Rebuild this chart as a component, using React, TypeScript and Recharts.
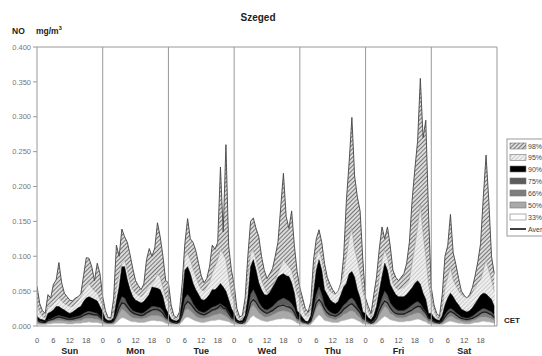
import React from "react";
import { ComposedChart, Area, Line, XAxis, YAxis, ReferenceLine } from "recharts";

// Values in units of 0.001 mg/m3, one row of 24 hourly values per day
const days = ["Sun", "Mon", "Tue", "Wed", "Thu", "Fri", "Sat"];
const hourTicks = [0, 6, 12, 18];
const yTicks = [0, 50, 100, 150, 200, 250, 300, 350, 400];
const dayBounds = [24, 48, 72, 96, 120, 144, 168];

const p98 = [
  [57, 32, 22, 18, 45, 40, 60, 66, 91, 62, 47, 42, 37, 36, 40, 42, 46, 72, 98, 97, 85, 65, 90, 75],
  [42, 22, 12, 12, 40, 116, 100, 139, 128, 120, 102, 82, 65, 58, 52, 60, 95, 111, 100, 112, 148, 128, 100, 65],
  [62, 30, 15, 12, 20, 60, 118, 154, 125, 120, 108, 90, 72, 62, 68, 85, 116, 110, 120, 228, 135, 260, 115, 80],
  [60, 25, 13, 15, 40, 100, 150, 155, 140, 128, 100, 80, 68, 75, 82, 100, 120, 170, 219, 157, 140, 165, 115, 78],
  [55, 40, 25, 20, 35, 95, 125, 138, 120, 90, 70, 60, 52, 46, 50, 62, 100, 180, 235, 299, 215, 185, 165, 95],
  [40, 28, 18, 45, 70, 110, 142, 125, 142, 115, 80, 70, 65, 70, 75, 90, 120, 180, 225, 265, 355, 270, 295, 160],
  [55, 30, 18, 14, 45, 100, 115, 160, 105, 88, 68, 50, 44, 40, 45, 55, 72, 92, 118, 185, 245, 180, 100, 75],
];
const p95 = [
  [30, 20, 14, 12, 28, 28, 32, 36, 40, 36, 32, 30, 28, 28, 32, 36, 42, 50, 56, 61, 55, 50, 48, 38],
  [30, 16, 10, 10, 20, 55, 75, 90, 95, 80, 62, 52, 47, 44, 42, 46, 52, 58, 61, 66, 75, 70, 55, 40],
  [35, 18, 10, 9, 15, 45, 99, 104, 95, 82, 71, 60, 52, 50, 56, 62, 75, 85, 95, 109, 104, 95, 70, 45],
  [35, 16, 9, 10, 25, 70, 104, 109, 95, 80, 66, 56, 47, 50, 56, 65, 76, 85, 95, 90, 85, 80, 65, 45],
  [38, 25, 15, 14, 25, 70, 100, 109, 95, 75, 56, 50, 47, 45, 50, 60, 76, 100, 125, 140, 110, 95, 76, 50],
  [35, 20, 12, 25, 40, 70, 95, 109, 98, 80, 61, 55, 52, 54, 56, 60, 66, 90, 114, 142, 175, 133, 100, 60],
  [40, 22, 12, 10, 25, 55, 70, 85, 66, 58, 50, 45, 42, 40, 42, 48, 55, 62, 66, 80, 95, 80, 66, 50],
];
const p90 = [
  [14, 10, 9, 8, 18, 20, 23, 28, 28, 25, 23, 20, 18, 20, 23, 26, 28, 35, 40, 42, 40, 38, 36, 28],
  [20, 10, 8, 8, 12, 35, 56, 85, 85, 66, 52, 42, 37, 35, 33, 35, 40, 45, 56, 55, 54, 52, 42, 25],
  [18, 10, 8, 7, 10, 37, 80, 85, 75, 61, 52, 45, 38, 37, 40, 45, 52, 52, 56, 61, 56, 50, 38, 25],
  [18, 9, 7, 8, 15, 40, 85, 95, 80, 62, 52, 45, 44, 48, 55, 62, 70, 73, 75, 72, 71, 62, 47, 22],
  [18, 12, 7, 6, 15, 47, 80, 95, 80, 52, 45, 38, 34, 32, 35, 45, 56, 61, 75, 78, 70, 52, 40, 20],
  [18, 12, 9, 15, 28, 50, 71, 90, 80, 60, 52, 45, 42, 42, 42, 45, 50, 55, 61, 65, 60, 47, 38, 18],
  [18, 12, 9, 8, 15, 30, 40, 47, 42, 35, 30, 24, 22, 20, 22, 26, 32, 38, 44, 47, 46, 42, 38, 28],
];
const p75 = [
  [9, 7, 6, 5, 9, 10, 12, 14, 15, 14, 13, 12, 11, 12, 13, 14, 15, 18, 20, 21, 20, 19, 18, 14],
  [10, 6, 5, 5, 7, 18, 32, 42, 40, 32, 26, 22, 20, 19, 18, 19, 22, 25, 28, 28, 27, 26, 22, 14],
  [10, 6, 5, 5, 6, 20, 40, 45, 40, 32, 26, 22, 20, 19, 21, 24, 27, 28, 30, 32, 29, 26, 20, 13],
  [10, 6, 5, 5, 8, 22, 45, 52, 44, 34, 28, 24, 23, 25, 28, 32, 36, 38, 40, 38, 36, 32, 25, 13],
  [10, 7, 5, 4, 8, 25, 45, 56, 45, 30, 24, 20, 18, 17, 19, 24, 30, 33, 38, 40, 36, 28, 22, 12],
  [10, 7, 5, 8, 14, 28, 40, 50, 44, 33, 28, 24, 22, 22, 22, 24, 27, 30, 33, 35, 32, 25, 20, 11],
  [11, 7, 5, 5, 8, 16, 22, 25, 23, 19, 16, 13, 12, 11, 12, 14, 17, 20, 23, 25, 24, 22, 20, 15],
];
const p66 = [
  [7, 5, 5, 4, 7, 8, 9, 11, 12, 11, 10, 9, 9, 9, 10, 11, 12, 14, 15, 16, 15, 15, 14, 11],
  [8, 5, 4, 4, 5, 14, 25, 33, 31, 25, 20, 17, 16, 15, 14, 15, 17, 19, 22, 22, 21, 20, 17, 11],
  [8, 5, 4, 4, 5, 15, 31, 35, 31, 25, 20, 17, 16, 15, 16, 19, 21, 22, 24, 25, 23, 20, 16, 10],
  [8, 5, 4, 4, 6, 17, 35, 42, 35, 27, 22, 19, 18, 20, 22, 25, 28, 30, 31, 30, 28, 25, 19, 10],
  [8, 5, 4, 3, 6, 19, 35, 45, 36, 24, 19, 16, 14, 13, 15, 19, 24, 26, 30, 31, 28, 22, 17, 9],
  [8, 5, 4, 6, 11, 22, 31, 40, 35, 26, 22, 19, 17, 17, 17, 19, 21, 23, 26, 27, 25, 20, 16, 9],
  [8, 5, 4, 4, 6, 12, 17, 20, 18, 15, 12, 10, 9, 9, 9, 11, 13, 15, 18, 19, 19, 17, 15, 11],
];
const p50 = [
  [5, 4, 3, 3, 5, 6, 7, 8, 8, 8, 7, 7, 6, 7, 7, 8, 8, 10, 11, 11, 11, 10, 10, 8],
  [6, 4, 3, 3, 4, 10, 18, 24, 22, 18, 14, 12, 11, 11, 10, 11, 12, 14, 15, 15, 15, 14, 12, 8],
  [6, 4, 3, 3, 4, 11, 22, 25, 22, 18, 14, 12, 11, 11, 12, 13, 15, 16, 17, 18, 16, 14, 11, 7],
  [6, 4, 3, 3, 4, 12, 25, 30, 25, 19, 16, 13, 13, 14, 16, 18, 20, 21, 22, 21, 20, 18, 13, 7],
  [6, 4, 3, 2, 4, 13, 25, 32, 26, 17, 13, 11, 10, 9, 11, 13, 17, 18, 21, 22, 20, 15, 12, 6],
  [6, 4, 3, 4, 8, 15, 22, 28, 25, 18, 16, 13, 12, 12, 12, 13, 15, 16, 18, 19, 18, 14, 11, 6],
  [6, 4, 3, 3, 4, 8, 12, 14, 13, 10, 9, 7, 6, 6, 6, 8, 9, 11, 13, 13, 13, 12, 10, 8],
];
const p33 = [
  [3, 2, 2, 2, 3, 3, 4, 4, 4, 4, 4, 3, 3, 3, 4, 4, 4, 5, 5, 6, 5, 5, 5, 4],
  [3, 2, 2, 2, 2, 5, 9, 12, 11, 9, 7, 6, 6, 5, 5, 5, 6, 7, 8, 8, 7, 7, 6, 4],
  [3, 2, 2, 2, 2, 6, 11, 13, 11, 9, 7, 6, 5, 5, 6, 7, 8, 8, 9, 9, 8, 7, 6, 4],
  [3, 2, 2, 2, 2, 6, 12, 15, 12, 10, 8, 7, 6, 7, 8, 9, 10, 10, 11, 10, 10, 9, 7, 4],
  [3, 2, 2, 1, 2, 7, 12, 16, 13, 8, 7, 6, 5, 5, 5, 7, 8, 9, 10, 11, 10, 8, 6, 3],
  [3, 2, 2, 2, 4, 7, 11, 14, 12, 9, 8, 7, 6, 6, 6, 7, 7, 8, 9, 10, 9, 7, 6, 3],
  [3, 2, 2, 2, 2, 4, 6, 7, 6, 5, 4, 4, 3, 3, 3, 4, 5, 5, 6, 7, 6, 6, 5, 4],
];
const avg = [
  [9, 6, 5, 5, 8, 9, 10, 12, 13, 12, 11, 10, 10, 10, 11, 12, 13, 15, 17, 18, 17, 16, 16, 13],
  [9, 6, 5, 5, 7, 15, 26, 33, 32, 27, 22, 19, 17, 16, 15, 16, 19, 21, 23, 24, 24, 22, 18, 12],
  [10, 6, 5, 4, 6, 16, 30, 35, 32, 27, 22, 19, 17, 16, 18, 20, 23, 24, 26, 30, 26, 25, 18, 12],
  [10, 6, 4, 4, 7, 18, 33, 38, 34, 27, 23, 20, 18, 20, 22, 25, 28, 29, 30, 28, 27, 25, 19, 11],
  [10, 6, 5, 4, 7, 20, 33, 38, 33, 24, 19, 16, 15, 14, 16, 19, 24, 27, 30, 32, 28, 24, 19, 11],
  [9, 6, 4, 6, 11, 22, 30, 36, 33, 26, 21, 18, 17, 17, 17, 19, 21, 23, 26, 28, 28, 23, 19, 11],
  [10, 6, 5, 4, 7, 13, 18, 21, 19, 16, 13, 11, 10, 9, 10, 11, 13, 15, 18, 20, 20, 18, 16, 12],
];

const legendItems = ["98%", "95%", "90%", "75%", "66%", "50%", "33%", "Average"];

const data = days.flatMap((_, d) =>
  p98[d].map((_, h) => ({
    i: d * 24 + h,
    p98: p98[d][h],
    p95: p95[d][h],
    p90: p90[d][h],
    p75: p75[d][h],
    p66: p66[d][h],
    p50: p50[d][h],
    p33: p33[d][h],
    avg: avg[d][h],
  }))
);

const xTicks = days.flatMap((_, d) => hourTicks.map((h) => d * 24 + h));

const FONT = "Arial, 'Liberation Sans', sans-serif";

const fills: Record<string, string> = {
  "98%": "url(#h98)",
  "95%": "url(#h95)",
  "90%": "#000000",
  "75%": "#5c5c5c",
  "66%": "#7e7e7e",
  "50%": "#a9a9a9",
  "33%": "#ffffff",
};
const legendFills: Record<string, string> = {
  "98%": "url(#lh98)",
  "95%": "url(#lh95)",
  "90%": "#000000",
  "75%": "#5c5c5c",
  "66%": "#7e7e7e",
  "50%": "#a9a9a9",
  "33%": "#ffffff",
};

const HourTick = (props: any) => {
  const { x, y, payload } = props;
  const v = payload.value as number;
  const h = v % 24;
  const d = Math.floor(v / 24);
  return (
    <g>
      <text x={x} y={y + 14.5} textAnchor="middle" fontSize={7.5} fill="#555" fontFamily={FONT}>
        {h}
      </text>
      {h === 12 ? (
        <text x={x} y={y + 26} textAnchor="middle" fontSize={9} fontWeight="bold" fill="#222" fontFamily={FONT}>
          {days[d]}
        </text>
      ) : null}
    </g>
  );
};

const Hatch = ({ id, bg, fg, w }: { id: string; bg: string; fg: string; w: number }) => (
  <pattern id={id} width="3" height="3" patternUnits="userSpaceOnUse" patternTransform="rotate(45)">
    <rect width="3" height="3" fill={bg} />
    <line x1="0" y1="0" x2="0" y2="3" stroke={fg} strokeWidth={w} />
  </pattern>
);

export default function App() {
  const rowY = [146, 157.5, 169, 181, 193, 205, 217, 229];
  return (
    <div style={{ position: "absolute", left: 0, top: 0, width: 542, height: 356, background: "#fff" }}>
      <ComposedChart
        width={542}
        height={356}
        data={data}
        margin={{ top: 47, right: 45, bottom: 0, left: 0 }}
      >
        <defs>
          <Hatch id="h98" bg="#dcdcdc" fg="#484848" w={1.4} />
          <Hatch id="h95" bg="#efefef" fg="#b4b4b4" w={1.2} />
        </defs>
        <XAxis
          type="number"
          dataKey="i"
          domain={[0, 168]}
          ticks={xTicks}
          interval={0}
          tick={<HourTick />}
          tickLine={false}
          tickSize={0}
          height={30}
          axisLine={{ stroke: "#999" }}
          allowDataOverflow
        />
        <YAxis
          type="number"
          domain={[0, 400]}
          ticks={yTicks}
          interval={0}
          width={37}
          tickSize={4}
          tickMargin={2}
          tickLine={{ stroke: "#999" }}
          axisLine={{ stroke: "#999" }}
          tick={{ fontSize: 7.5, fill: "#777", fontFamily: FONT }}
          tickFormatter={(v: number) => (v / 1000).toFixed(3)}
          allowDataOverflow
        />
        <Area type="linear" dataKey="p98" fill="url(#h98)" fillOpacity={1} stroke="#444" strokeWidth={0.9} isAnimationActive={false} />
        <Area type="linear" dataKey="p95" fill="url(#h95)" fillOpacity={1} stroke="#999" strokeWidth={0.5} isAnimationActive={false} />
        <Area type="linear" dataKey="p90" fill={fills["90%"]} fillOpacity={1} stroke="#000" strokeWidth={0.5} isAnimationActive={false} />
        <Area type="linear" dataKey="p75" fill={fills["75%"]} fillOpacity={1} stroke="#4a4a4a" strokeWidth={0.5} isAnimationActive={false} />
        <Area type="linear" dataKey="p66" fill={fills["66%"]} fillOpacity={1} stroke="#6a6a6a" strokeWidth={0.5} isAnimationActive={false} />
        <Area type="linear" dataKey="p50" fill={fills["50%"]} fillOpacity={1} stroke="#999" strokeWidth={0.5} isAnimationActive={false} />
        <Area type="linear" dataKey="p33" fill={fills["33%"]} fillOpacity={1} stroke="#bbb" strokeWidth={0.5} isAnimationActive={false} />
        <Line type="linear" dataKey="avg" stroke="#1a1a1a" strokeWidth={1.2} dot={false} isAnimationActive={false} />
        {dayBounds.map((b) => (
          <ReferenceLine key={b} x={b} stroke="#999" strokeWidth={1} />
        ))}
        <ReferenceLine y={400} stroke="#999" strokeWidth={1} />
      </ComposedChart>
      <svg
        width={542}
        height={356}
        style={{ position: "absolute", left: 0, top: 0, pointerEvents: "none" }}
      >
        <defs>
          <Hatch id="lh98" bg="#dcdcdc" fg="#484848" w={1.4} />
          <Hatch id="lh95" bg="#efefef" fg="#b4b4b4" w={1.2} />
        </defs>
        <text x={258} y={21} textAnchor="middle" fontSize={10} fontWeight="bold" fill="#222" fontFamily={FONT}>
          Szeged
        </text>
        <text x={12} y={34} fontSize={8.5} fontWeight="bold" fill="#222" fontFamily={FONT}>
          NO
        </text>
        <text x={36} y={34} fontSize={8.5} fontWeight="bold" fill="#222" fontFamily={FONT}>
          mg/m
          <tspan fontSize={5.5} dy={-4}>3</tspan>
        </text>
        <text x={504} y={323} fontSize={8} fontWeight="bold" fill="#222" fontFamily={FONT}>
          CET
        </text>
        <rect x={507} y={139} width={60} height={97} fill="#fff" stroke="#999" strokeWidth={1} />
        {legendItems.map((name, k) =>
          name === "Average" ? (
            <g key={name}>
              <line x1={510} x2={526} y1={rowY[k]} y2={rowY[k]} stroke="#111" strokeWidth={1.6} />
              <text x={528} y={rowY[k] + 2.5} fontSize={7} fill="#444" fontFamily={FONT}>
                {name}
              </text>
            </g>
          ) : (
            <g key={name}>
              <rect x={510} y={rowY[k] - 3} width={16} height={6} fill={legendFills[name]} stroke="#777" strokeWidth={0.6} />
              <text x={528} y={rowY[k] + 2.5} fontSize={7} fill="#444" fontFamily={FONT}>
                {name}
              </text>
            </g>
          )
        )}
      </svg>
    </div>
  );
}
